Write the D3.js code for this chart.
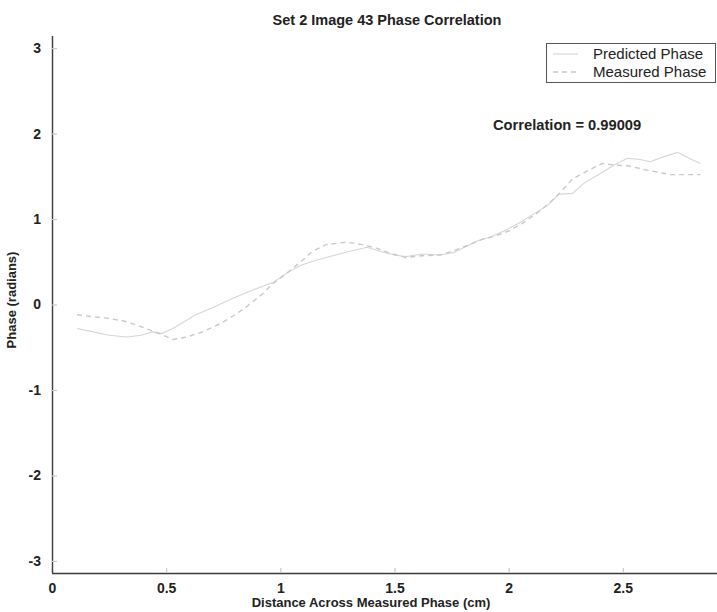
<!DOCTYPE html>
<html>
<head>
<meta charset="utf-8">
<script src="https://cdn.jsdelivr.net/npm/d3@7"></script>
<style>
  html, body { margin: 0; padding: 0; background: #ffffff; }
  svg { display: block; font-family: "Liberation Sans", Arial, Helvetica, sans-serif; }
</style>
</head>
<body>
<svg id="chart" width="717" height="612"></svg>
<script>
// Predicted phase profile (solid)
const predictedX = [0.11,0.18,0.25,0.33,0.39,0.44,0.48,0.53,0.58,0.63,0.71,0.79,0.88,0.97,1.03,1.09,1.16,1.23,1.30,1.38,1.44,1.50,1.55,1.62,1.70,1.76,1.80,1.86,1.92,1.98,2.05,2.11,2.17,2.22,2.28,2.33,2.40,2.46,2.52,2.57,2.62,2.68,2.74,2.79,2.84];
const predictedY = [-0.28,-0.32,-0.36,-0.38,-0.36,-0.32,-0.34,-0.28,-0.20,-0.12,-0.03,0.07,0.17,0.26,0.37,0.46,0.52,0.57,0.62,0.67,0.62,0.58,0.56,0.59,0.58,0.61,0.66,0.74,0.79,0.86,0.96,1.06,1.16,1.29,1.30,1.42,1.53,1.63,1.71,1.70,1.67,1.73,1.78,1.71,1.65];

// Measured phase profile (dashed)
const measuredX = [0.11,0.17,0.24,0.31,0.37,0.43,0.47,0.53,0.59,0.66,0.74,0.79,0.85,0.92,0.97,1.03,1.09,1.14,1.20,1.29,1.36,1.42,1.48,1.55,1.62,1.70,1.76,1.82,1.88,1.94,2.00,2.06,2.12,2.18,2.23,2.28,2.35,2.41,2.47,2.53,2.59,2.65,2.71,2.78,2.84];
const measuredY = [-0.12,-0.14,-0.16,-0.19,-0.24,-0.30,-0.34,-0.41,-0.38,-0.32,-0.22,-0.14,-0.03,0.12,0.25,0.37,0.50,0.62,0.70,0.73,0.70,0.66,0.60,0.55,0.57,0.58,0.63,0.69,0.76,0.80,0.86,0.95,1.06,1.19,1.32,1.47,1.57,1.65,1.63,1.62,1.58,1.55,1.52,1.52,1.52];

const xTicks = [0, 0.5, 1, 1.5, 2, 2.5];
const xTickLabels = ["0", "0.5", "1", "1.5", "2", "2.5"];
const yTicks = [-3, -2, -1, 0, 1, 2, 3];
const yTickLabels = ["-3", "-2", "-1", "0", "1", "2", "3"];

const seriesNames = ["Predicted Phase", "Measured Phase"];
const correlation = 0.99009;

const svg = d3.select("#chart");

const plotLeft = 52, plotRight = 721, plotTop = 36, plotBottom = 573;
const x = d3.scaleLinear().domain([0, 2.93]).range([plotLeft, plotRight]);
const y = d3.scaleLinear().domain([-Math.PI, Math.PI]).range([plotBottom, plotTop]);

// Title
svg.append("text")
  .attr("x", 387).attr("y", 25)
  .attr("text-anchor", "middle")
  .attr("font-size", 14.5).attr("font-weight", "bold")
  .attr("fill", "#222")
  .text("Set 2 Image 43 Phase Correlation");

// Axes (left and bottom only, ticks pointing inward)
const xAxis = d3.axisBottom(x)
  .tickValues(xTicks)
  .tickFormat((d, i) => xTickLabels[i])
  .tickSizeInner(-5).tickSizeOuter(0).tickPadding(10);
const gx = svg.append("g").attr("transform", `translate(0,${plotBottom})`).call(xAxis);

const yAxis = d3.axisLeft(y)
  .tickValues(yTicks)
  .tickFormat((d, i) => yTickLabels[i])
  .tickSizeInner(-5).tickSizeOuter(0).tickPadding(11);
const gy = svg.append("g").attr("transform", `translate(${plotLeft},0)`).call(yAxis);

[gx, gy].forEach(g => {
  g.select(".domain").attr("stroke", "#3a3a3a").attr("stroke-width", 1.4);
  g.selectAll(".tick line").attr("stroke", "#c8c8c8").attr("stroke-width", 1.2);
  g.selectAll(".tick text")
    .attr("font-family", "'Liberation Sans', Arial, sans-serif")
    .attr("font-size", 14).attr("font-weight", "bold").attr("fill", "#222");
});
gy.select(".domain").attr("d", `M0.5,${plotTop}V${plotBottom}`);
gx.select(".domain").attr("d", `M${plotLeft},0.5H717`);

// Axis labels
svg.append("text")
  .attr("x", 371).attr("y", 607)
  .attr("text-anchor", "middle")
  .attr("font-size", 13).attr("font-weight", "bold").attr("fill", "#222")
  .text("Distance Across Measured Phase (cm)");

svg.append("text")
  .attr("transform", "translate(16,300) rotate(-90)")
  .attr("text-anchor", "middle")
  .attr("font-size", 13).attr("font-weight", "bold").attr("fill", "#222")
  .text("Phase (radians)");

// Phase profiles
const line = d3.line().x(d => x(d[0])).y(d => y(d[1]));
const predicted = predictedX.map((v, i) => [v, predictedY[i]]);
const measured = measuredX.map((v, i) => [v, measuredY[i]]);

const predStyle = { stroke: "#d6d6d6", width: 1.1, dash: null };
const measStyle = { stroke: "#c9c9c9", width: 1.4, dash: "5,4" };

svg.append("path")
  .datum(predicted)
  .attr("d", line)
  .attr("fill", "none")
  .attr("stroke", predStyle.stroke)
  .attr("stroke-width", predStyle.width);

svg.append("path")
  .datum(measured)
  .attr("d", line)
  .attr("fill", "none")
  .attr("stroke", measStyle.stroke)
  .attr("stroke-width", measStyle.width)
  .attr("stroke-dasharray", measStyle.dash);

// Correlation annotation
svg.append("text")
  .attr("x", 493).attr("y", 130)
  .attr("font-size", 14.7).attr("font-weight", "bold").attr("fill", "#222")
  .text("Correlation = " + correlation);

// Legend
const lg = svg.append("g");
lg.append("rect")
  .attr("x", 546.5).attr("y", 43.5)
  .attr("width", 169).attr("height", 39)
  .attr("fill", "#fff").attr("stroke", "#555").attr("stroke-width", 1);
[predStyle, measStyle].forEach((st, i) => {
  const yy = 54 + i * 18;
  lg.append("line")
    .attr("x1", 553).attr("x2", 578).attr("y1", yy).attr("y2", yy)
    .attr("stroke", st.stroke)
    .attr("stroke-width", st.width)
    .attr("stroke-dasharray", st.dash);
  lg.append("text")
    .attr("x", 593).attr("y", yy + 5)
    .attr("font-size", 15).attr("fill", "#222")
    .text(seriesNames[i]);
});
</script>
</body>
</html>
